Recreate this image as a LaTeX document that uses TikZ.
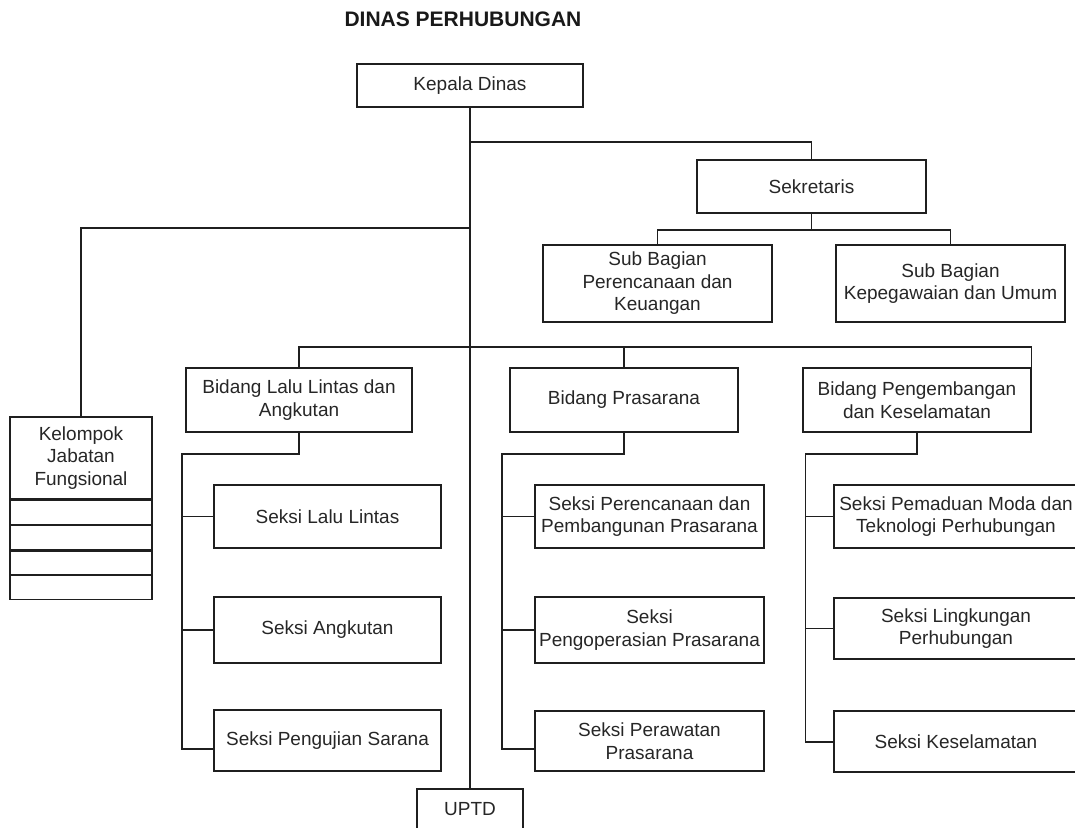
\documentclass[tikz,border=0pt]{standalone}
\usepackage{fontspec}
\setmainfont{Liberation Sans}
\begin{document}
\begin{tikzpicture}[x=1pt,y=-1pt,
  ln/.style={line width=1.3pt, draw=black!88},
  box/.style={ln, rectangle, inner sep=0pt, align=center, text=black!85,
              font=\fontsize{19}{22.5}\selectfont},
]
\useasboundingbox (0,0) rectangle (1075,827);

% title
\node[font=\bfseries\fontsize{21}{24}\selectfont, text=black!90] (title) at (463,19) {DINAS PERHUBUNGAN};

% top level
\node[box, minimum width=226pt, minimum height=43pt] (kepala) at (470,85.5) {Kepala Dinas};
\node[box, minimum width=229pt, minimum height=53pt] (sek) at (811.5,186.5) {Sekretaris};
\node[box, minimum width=229pt, minimum height=77pt] (subren) at (657.5,283.5) {Sub Bagian\\Perencanaan dan\\Keuangan};
\node[box, minimum width=229pt, minimum height=77pt] (subpeg) at (950.5,283.5) {Sub Bagian\\Kepegawaian dan Umum};

% kelompok jabatan fungsional
\node[box, minimum width=142pt, minimum height=82pt] (kelompok) at (81,458) {Kelompok\\Jabatan\\Fungsional};
\node[box, minimum width=142pt, minimum height=24pt, anchor=north] (k1) at (kelompok.south) {};
\node[box, minimum width=142pt, minimum height=24pt, anchor=north] (k2) at (k1.south) {};
\node[box, minimum width=142pt, minimum height=23.5pt, anchor=north] (k3) at (k2.south) {};
\node[box, minimum width=142pt, minimum height=23.5pt, anchor=north] (k4) at (k3.south) {};

% bidang
\node[box, minimum width=226pt, minimum height=64pt] (bidLL) at (299,400) {Bidang Lalu Lintas dan\\Angkutan};
\node[box, minimum width=228pt, minimum height=64pt] (bidPras) at (624,400) {Bidang Prasarana};
\node[box, minimum width=228pt, minimum height=64pt] (bidPeng) at (917,400) {Bidang Pengembangan\\dan Keselamatan};

% seksi lalu lintas
\node[box, minimum width=227pt, minimum height=63pt] (ll1) at (327.5,516.5) {Seksi Lalu Lintas};
\node[box, minimum width=227pt, minimum height=66pt] (ll2) at (327.5,630) {Seksi Angkutan};
\node[box, minimum width=227pt, minimum height=61pt] (ll3) at (327.5,740.5) {Seksi Pengujian Sarana};

% seksi prasarana
\node[box, minimum width=229pt, minimum height=63pt] (pr1) at (649.5,516.5) {Seksi Perencanaan dan\\Pembangunan Prasarana};
\node[box, minimum width=229pt, minimum height=66pt] (pr2) at (649.5,630) {Seksi\\Pengoperasian Prasarana};
\node[box, minimum width=229pt, minimum height=60pt] (pr3) at (649.5,741) {Seksi Perawatan\\Prasarana};

% seksi pengembangan
\node[box, minimum width=244pt, minimum height=63pt] (pg1) at (956,516.5) {Seksi Pemaduan Moda dan\\Teknologi Perhubungan};
\node[box, minimum width=244pt, minimum height=61pt] (pg2) at (956,628.5) {Seksi Lingkungan\\Perhubungan};
\node[box, minimum width=244pt, minimum height=61pt] (pg3) at (956,741.5) {Seksi Keselamatan};

% UPTD
\node[box, minimum width=106pt, minimum height=40pt] (uptd) at (470,809) {UPTD};

% junctions
\coordinate (j1) at (470,142);
\coordinate (j2) at (470,228);
\coordinate (j3) at (470,347);
\coordinate (j4) at (811.5,230);
\coordinate (llt) at (182,454);
\coordinate (llb) at (182,749);
\coordinate (prt) at (502,454);
\coordinate (prb) at (502,749);
\coordinate (pgt) at (805.5,454);
\coordinate (pgb) at (805.5,742);

% main trunk
\draw[ln] (kepala.south) -- (uptd.north);
\draw[ln] (j1) -| (sek.north);
\draw[ln] (sek.south) -- (j4);
\draw[ln] (subren.north) |- (j4) -| (subpeg.north);
\draw[ln] (j2) -| (kelompok.north);
\draw[ln] (bidLL.north) |- (bidPeng.north east |- j3) -- (bidPeng.north east);
\draw[ln] (bidPras.north) -- (bidPras.north |- j3);

% lalu lintas group
\draw[ln] (bidLL.south) |- (llt) -- (llb) -- (llb -| ll3.west);
\draw[ln] (ll1.west) -- (ll1.west -| llt);
\draw[ln] (ll2.west) -- (ll2.west -| llt);

% prasarana group
\draw[ln] (bidPras.south) |- (prt) -- (prb) -- (prb -| pr3.west);
\draw[ln] (pr1.west) -- (pr1.west -| prt);
\draw[ln] (pr2.west) -- (pr2.west -| prt);

% pengembangan group
\draw[ln] (bidPeng.south) |- (pgt) -- (pgb) -- (pgb -| pg3.west);
\draw[ln] (pg1.west) -- (pg1.west -| pgt);
\draw[ln] (pg2.west) -- (pg2.west -| pgt);
\end{tikzpicture}
\end{document}
